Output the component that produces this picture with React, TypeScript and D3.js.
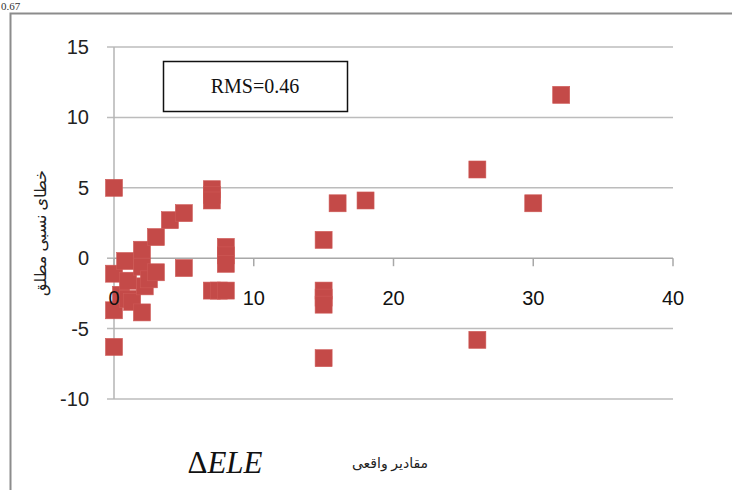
import React, { useEffect, useRef } from 'react';
import * as d3 from 'd3';

// actual value (x) vs absolute relative error (y)
const actualValues = [
  0, 0, 0, 0, 0.5, 0.8, 1, 1, 1.3, 2, 2, 2.2, 2, 2.5, 3, 3,
  4, 5, 5, 7, 7, 7, 7, 7.5, 8, 8, 8, 8,
  15, 15, 15, 15, 15, 16, 18, 26, 26, 30, 32,
];
const errorValues = [
  5, -1.1, -3.7, -6.3, -2.6, -0.2, -1.6, -2.9, -3.1, 0.6, -0.6, -2.0, -3.85, -1.5, 1.5, -1.0,
  2.7, 3.2, -0.7, 4.9, 4.5, 4.1, -2.3, -2.3, -2.3, 0.8, 0.2, -0.4,
  1.3, -2.3, -2.8, -3.3, -7.1, 3.9, 4.1, 6.3, -5.8, 3.9, 11.6,
];

const xTicks = [0, 10, 20, 30, 40];
const yTicks = [-10, -5, 0, 5, 10, 15];

export default function App() {
  const svgRef = useRef<SVGSVGElement>(null);

  useEffect(() => {
    if (!svgRef.current) return;
    const width = 732;
    const height = 490;

    const svg = d3.select(svgRef.current)
      .attr("width", width)
      .attr("height", height)
      .style("font-family", "Liberation Sans, Arial, sans-serif");
    svg.selectAll("*").remove();

    svg.append("rect").attr("width", width).attr("height", height).attr("fill", "#fff");

    // leftover text from the page above
    svg.append("text")
      .attr("x", 1).attr("y", 10)
      .style("font-size", "11px")
      .style("font-family", "Liberation Serif, serif")
      .attr("fill", "#333")
      .text("0.67");

    // outer chart frame
    svg.append("path")
      .attr("d", `M10.5,${height + 2} L10.5,13.5 L${width + 2},13.5`)
      .attr("fill", "none")
      .attr("stroke", "#8c8c8c")
      .attr("stroke-width", 2);

    const x = d3.scaleLinear().domain([0, 40]).range([114, 673]);
    const y = d3.scaleLinear().domain([-10, 15]).range([399, 47]);

    // horizontal gridlines
    svg.append("g")
      .selectAll("line")
      .data(yTicks.filter(t => t !== 0))
      .enter().append("line")
      .attr("x1", x(0) - 7).attr("x2", x(40))
      .attr("y1", d => y(d)).attr("y2", d => y(d))
      .attr("stroke", "#bcbcbc")
      .attr("stroke-width", 1.5);

    // y axis
    svg.append("line")
      .attr("x1", x(0)).attr("x2", x(0))
      .attr("y1", y(15)).attr("y2", y(-10))
      .attr("stroke", "#b5b5b5").attr("stroke-width", 1.5);
    svg.append("line")
      .attr("x1", x(0) - 7).attr("x2", x(0))
      .attr("y1", y(0)).attr("y2", y(0))
      .attr("stroke", "#b5b5b5").attr("stroke-width", 1.5);

    // x axis at y = 0
    svg.append("line")
      .attr("x1", x(0)).attr("x2", x(40))
      .attr("y1", y(0)).attr("y2", y(0))
      .attr("stroke", "#a8a8a8").attr("stroke-width", 1.5);
    svg.append("g")
      .selectAll("line")
      .data(xTicks)
      .enter().append("line")
      .attr("x1", d => x(d)).attr("x2", d => x(d))
      .attr("y1", y(0)).attr("y2", y(0) + 8)
      .attr("stroke", "#a8a8a8").attr("stroke-width", 1.5);

    // y tick labels
    svg.append("g")
      .selectAll("text")
      .data(yTicks)
      .enter().append("text")
      .attr("x", 89)
      .attr("y", d => y(d) + 7)
      .attr("text-anchor", "end")
      .style("font-size", "20px")
      .attr("fill", "#222")
      .text(d => d);

    // RMS box
    svg.append("rect")
      .attr("x", 163.5).attr("y", 61.5)
      .attr("width", 184).attr("height", 50)
      .attr("fill", "#fff")
      .attr("stroke", "#111")
      .attr("stroke-width", 1.5);
    svg.append("text")
      .attr("x", 255).attr("y", 93)
      .attr("text-anchor", "middle")
      .style("font-family", "Liberation Serif, Times New Roman, serif")
      .style("font-size", "20px")
      .attr("fill", "#111")
      .text("RMS=0.46");

    // markers
    const size = 17;
    svg.append("g")
      .selectAll("rect")
      .data(actualValues.map((v, i) => [v, errorValues[i]]))
      .enter().append("rect")
      .attr("x", d => x(d[0]) - size / 2)
      .attr("y", d => y(d[1]) - size / 2)
      .attr("width", size)
      .attr("height", size)
      .attr("fill", "#c44a48")
      .attr("stroke", "#cf5a57")
      .attr("stroke-width", 0.6);

    // x tick labels (drawn over markers)
    svg.append("g")
      .selectAll("text")
      .data(xTicks)
      .enter().append("text")
      .attr("x", d => x(d))
      .attr("y", y(0) + 47)
      .attr("text-anchor", "middle")
      .style("font-size", "20px")
      .attr("fill", "#111")
      .text(d => d);

    // axis titles
    svg.append("text")
      .attr("transform", `translate(46,233) rotate(-90)`)
      .attr("text-anchor", "middle")
      .style("font-family", "Noto Sans, DejaVu Sans, sans-serif")
      .style("font-size", "16px")
      .attr("fill", "#222")
      .text("خطای نسبی مطلق");

    svg.append("text")
      .attr("x", 390).attr("y", 468)
      .attr("text-anchor", "middle")
      .style("font-family", "Noto Sans, DejaVu Sans, sans-serif")
      .style("font-size", "14px")
      .attr("fill", "#222")
      .text("مقادیر واقعی");

    const ele = svg.append("text")
      .attr("x", 225).attr("y", 473)
      .attr("text-anchor", "middle")
      .style("font-family", "Liberation Serif, Times New Roman, serif")
      .style("font-size", "31px")
      .attr("fill", "#111");
    ele.append("tspan").text("Δ");
    ele.append("tspan").style("font-style", "italic").text("ELE");
  }, []);

  return (
    <div style={{ position: "fixed", left: 0, top: 0 }}>
      <svg ref={svgRef} style={{ display: "block" }}></svg>
    </div>
  );
}
